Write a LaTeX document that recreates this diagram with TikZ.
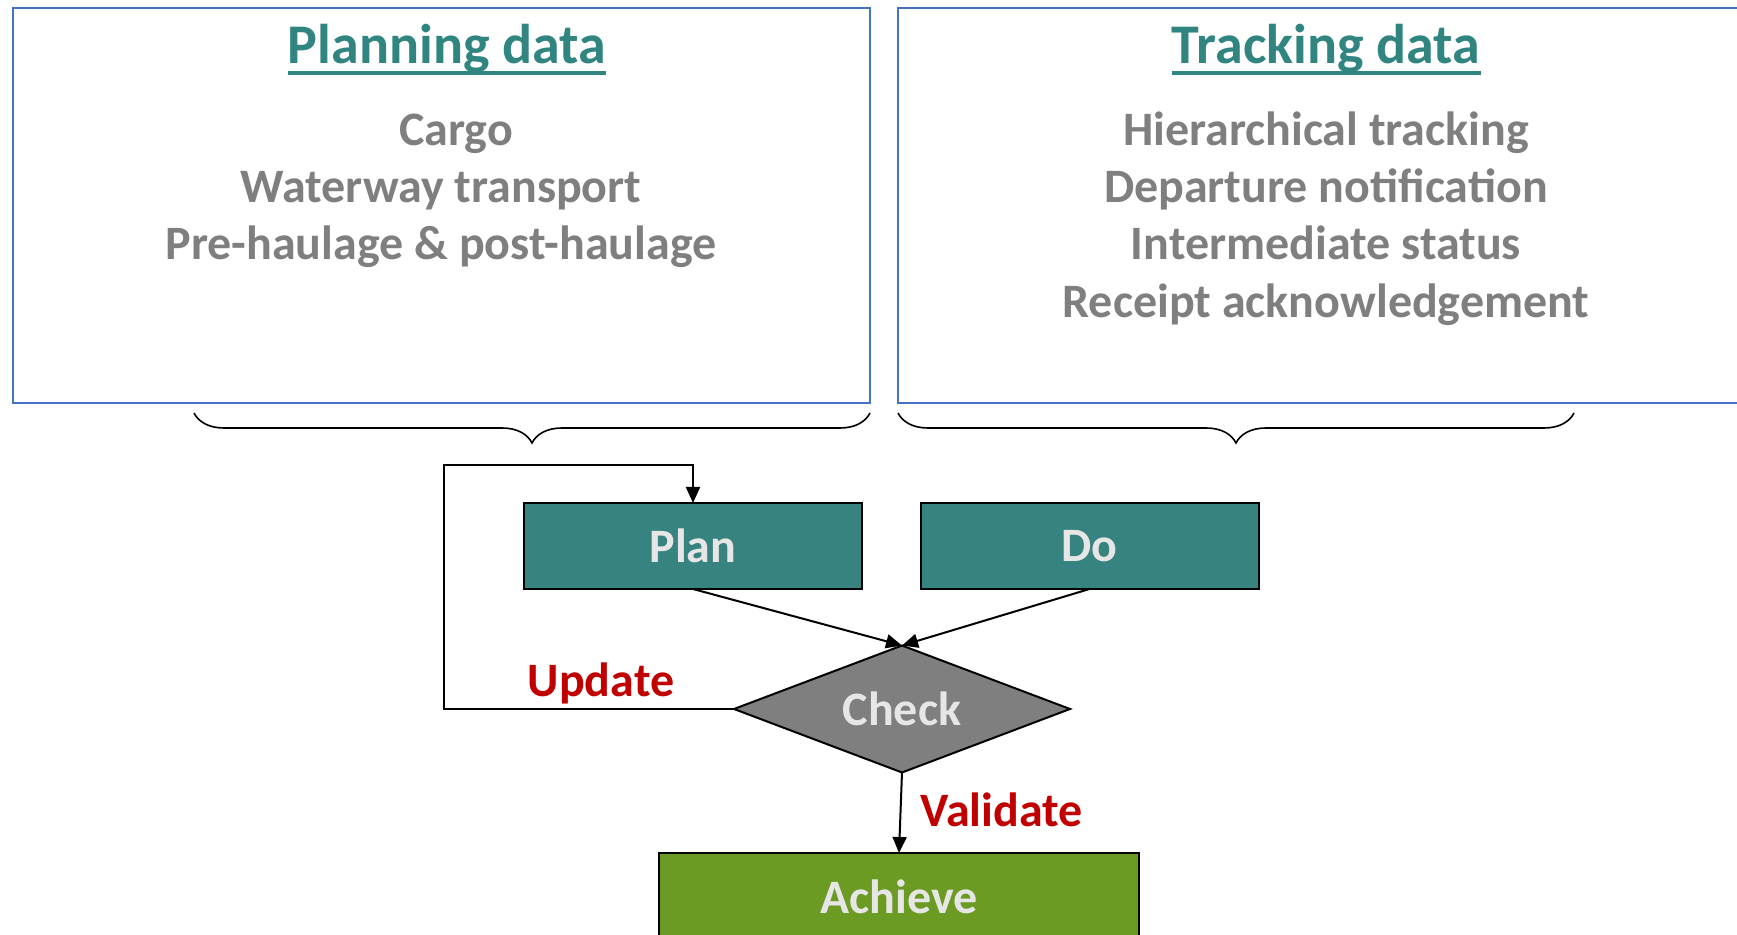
\documentclass[tikz,border=0pt]{standalone}
\usepackage{fontspec}
\setmainfont{Carlito}
\usetikzlibrary{shapes.geometric,arrows.meta,decorations.pathreplacing}
\definecolor{tealc}{RGB}{55,131,127}
\definecolor{titlec}{RGB}{49,133,128}
\definecolor{grayt}{RGB}{127,127,127}
\definecolor{lightt}{RGB}{231,230,230}
\definecolor{redc}{RGB}{192,0,0}
\definecolor{greenc}{RGB}{107,155,35}
\definecolor{boxblue}{RGB}{68,114,196}
\begin{document}
\begin{tikzpicture}[x=0.5pt,y=-0.5pt,
  databox/.style={draw=boxblue, line width=0.8pt, inner sep=0pt, outer sep=0pt, minimum height=197.5pt},
  titletext/.style={font=\bfseries\fontsize{28}{33}\selectfont, text=titlec, inner sep=0pt, anchor=base},
  itemtext/.style={font=\bfseries\fontsize{24}{29}\selectfont, text=grayt, inner sep=0pt, anchor=base},
  stepbox/.style={draw=black, line width=1pt, fill=tealc, text=lightt, font=\bfseries\fontsize{24}{29}\selectfont, minimum width=169pt, minimum height=43pt, inner sep=0pt, outer sep=0pt},
  decision/.style={diamond, shape aspect=2.65, draw=black, line width=1pt, fill=grayt, text=lightt, font=\bfseries\fontsize{24}{29}\selectfont, minimum width=168pt, minimum height=63.5pt, inner sep=0pt, outer sep=0pt},
  lbl/.style={font=\bfseries\fontsize{24}{29}\selectfont, text=redc, inner sep=0pt, anchor=base},
  arr/.style={line width=1pt, -{Triangle[length=8pt,width=7pt]}},
  bracestyle/.style={decorate, decoration={brace, amplitude=15pt}, line width=0.8pt}
]
\useasboundingbox (0,0) rectangle (1737,935);
\clip (0,0) rectangle (1737,935);

% data boxes
\node[databox, minimum width=428.5pt] (planbox) at (441.5,205.5) {};
\node[databox, minimum width=441pt] (trackbox) at (1339,205.5) {};

% planning texts
\node[titletext] (ptitle) at (447,64) {Planning data};
\draw[titlec, line width=1.6pt] ([yshift=-4.5pt]ptitle.base west) -- ([yshift=-4.5pt]ptitle.base east);
\node[itemtext] (p1) at (456,146) {Cargo};
\node[itemtext] (p2) at (441,203) {Waterway transport};
\node[itemtext] (p3) at (441,260) {Pre-haulage \& post-haulage};

% tracking texts
\node[titletext] (ttitle) at (1326,64) {Tracking data};
\draw[titlec, line width=1.6pt] ([yshift=-4.5pt]ttitle.base west) -- ([yshift=-4.5pt]ttitle.base east);
\node[itemtext] (t1) at (1326,146) {Hierarchical tracking};
\node[itemtext] (t2) at (1326,203) {Departure notification};
\node[itemtext] (t3) at (1326,260) {Intermediate status};
\node[itemtext] (t4) at (1326,318) {Receipt acknowledgement};

% braces
\draw[bracestyle] (870,413) -- (194,413);
\draw[bracestyle] (1574,413) -- (898,413);

% flow
\node[stepbox] (plan) at (693,546) {Plan};
\node[stepbox] (do) at (1089.5,546) {Do};
\node[decision] (check) at (902,709) {Check};
\node[stepbox, fill=greenc, minimum width=240pt, minimum height=44pt] (achieve) at (899,897) {Achieve};

\coordinate (ul) at (444,465);
\draw[arr] (plan.south) -- (check.north);
\draw[arr] (do.south) -- (check.north);
\draw[arr] (check.west) -| (ul) -| (plan.north);
\draw[arr] (check.south) -- (achieve.north);

\node[lbl] (update) at (601,697) {Update};
\node[lbl] (validate) at (1001.5,827) {Validate};
\end{tikzpicture}
\end{document}
